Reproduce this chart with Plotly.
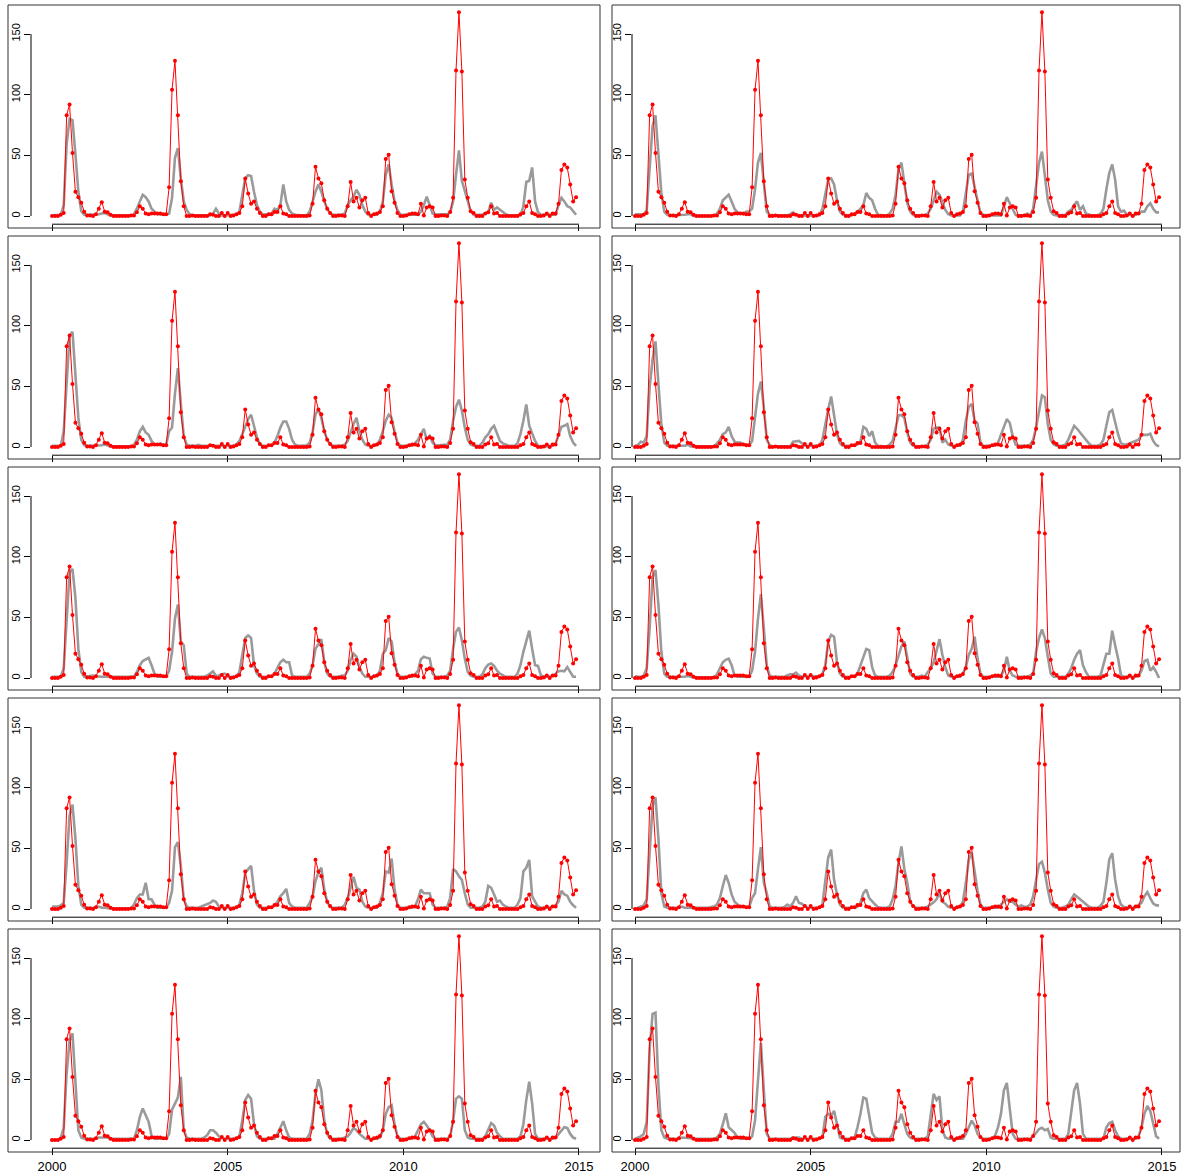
import plotly.graph_objects as go

# ---------------- data ----------------
months = [2000 + i / 12 for i in range(180)]

observed = [
    0, 0, 0, 1, 2.5, 83, 92, 52, 20, 15.5, 11, 3.6,
    0.5, 0.5, 0, 1.5, 6, 11.4, 3.6, 3, 1, 0, 0, 0,
    0, 0, 0, 0.5, 0.5, 3, 8, 6, 2, 1.5, 2, 2,
    2, 2, 1.5, 1.5, 23.6, 104, 128, 83, 28.6, 8, 0, 0,
    0.5, 0, 0, 0, 0, 0, 1.5, 1, 0, 0, 2.5, 0,
    2.5, 0, 0.5, 1.5, 2.5, 8, 31, 18.6, 10, 12, 6, 2.5,
    0, 0, 1.5, 1.5, 3.3, 3.3, 8, 2, 1.5, 0, 0, 0,
    0, 0, 0, 0, 0.5, 10, 40.5, 31, 27, 13, 6, 2.5,
    0, 0, 0.5, 0.5, 0, 8, 28, 12, 15, 7, 13, 15,
    2.5, 0, 1.5, 2, 3.3, 8, 47, 50.5, 20.5, 11, 2.5, 0,
    0, 0.5, 1.5, 2, 2, 1.5, 10, 0.5, 7, 8, 7, 0,
    0, 0.5, 0.5, 0, 3.3, 15, 120, 168, 119, 30, 15, 4,
    2.5, 0, 0, 0, 2, 3, 8, 2, 2.5, 0, 0, 0,
    0, 0, 0, 0, 1.5, 2.5, 8, 12, 2.5, 1.5, 0, 0,
    0.5, 2, 0, 2, 2, 10, 38, 42.5, 40, 26, 12, 15.5,
]

model_1 = [
    0.5, 0.5, 0.5, 1, 9, 59, 80, 79, 51, 20, 4, 1,
    1, 1, 1, 1.5, 1.5, 2, 2.5, 1.5, 0.5, 0.5, 0.5, 0.5,
    0.5, 0.5, 0.5, 0.5, 1.5, 6, 12, 17.5, 15.5, 12, 6, 4,
    1.5, 1.5, 1, 1, 2, 15, 48, 56, 31, 12, 5, 1.5,
    0.5, 0.5, 0.5, 0.5, 0.5, 0.5, 0.5, 2, 6, 2, 0.5, 0.5,
    1, 1, 1, 1, 3.6, 16, 31, 33.6, 33, 20, 9, 3.6,
    1.5, 1.5, 1, 2, 6, 5, 9, 26, 12, 5, 2, 1,
    0.5, 0.5, 0.5, 0.5, 3.6, 12, 20, 26, 20, 12, 6, 2,
    1, 1, 1, 1, 2, 9, 13, 16, 21.6, 17.5, 9, 3.6,
    1, 1, 1, 1, 3.6, 12, 34, 42.5, 26, 12, 5, 1,
    1, 1, 1, 1, 1, 1, 3.6, 9, 16, 9, 2, 1.5,
    1.5, 1.5, 1.5, 1.5, 3, 12, 34, 54, 29, 20, 12, 4,
    1, 1, 1, 1, 2, 3, 11, 5, 7, 5, 3, 1.5,
    0.5, 0.5, 0.5, 0.5, 0.5, 8, 28, 29, 40, 12, 3, 1,
    1, 1, 1, 1, 1, 9, 15, 12, 8, 7, 3.6, 1,
]

model_2 = [
    1.5, 1.5, 1.5, 1.5, 5, 44, 74, 83, 50, 19, 3.6, 1,
    0.5, 0.5, 0.5, 0.5, 0.5, 1, 1.5, 1.5, 0, 0, 0, 0,
    0, 0, 0, 0, 2, 6, 13, 15, 17.5, 12, 6, 3,
    2, 1.5, 3.6, 3.6, 6, 22, 44, 52, 27, 3.6, 1, 0.5,
    0.5, 0.5, 0.5, 0.5, 0.5, 1.5, 3, 1, 0.5, 0.5, 0.5, 0.5,
    0.5, 0.5, 0.5, 0.5, 6, 17.5, 30, 31, 26, 13, 3.6, 1,
    0.5, 0.5, 0.5, 2, 3.6, 6, 9, 19, 15, 13, 6, 1,
    0.5, 0.5, 0.5, 2, 6, 17.5, 38, 44, 27, 10.5, 3.6, 1,
    0.5, 0.5, 0.5, 0.5, 2, 6, 13, 20, 17.5, 10.5, 5, 1.5,
    0.5, 0.5, 0.5, 0.5, 3.6, 19, 34, 35, 24, 10.5, 2, 1,
    0.5, 0.5, 0.5, 0.5, 0.5, 0.5, 8, 15.5, 10.5, 5, 1, 0.5,
    0.5, 0.5, 2, 0.5, 6, 24, 44, 53, 33, 13, 3.6, 1,
    0.5, 0.5, 0.5, 1, 3.6, 5, 9, 12, 5, 8, 2, 1,
    0.5, 0.5, 0.5, 2, 6, 22, 35.5, 42.5, 30, 8, 3.6, 4.4,
    1, 1, 0.5, 1, 2, 3.6, 3.6, 8, 10.5, 6, 3, 3,
]

model_3 = [
    1, 1, 1, 1, 13, 58, 92, 95, 63, 24, 6, 1.5,
    1, 1, 1, 1, 1, 1.5, 2, 1, 0.5, 0.5, 0.5, 0.5,
    0.5, 0.5, 0.5, 0.5, 2, 6, 13, 16.6, 12, 10, 5, 2,
    1.7, 3, 1.7, 2, 13, 16, 44, 65, 35.5, 9, 2, 1,
    1, 1, 1.7, 1, 1, 1, 1, 1, 1, 1, 1, 1.5,
    1, 1, 1, 2, 5, 10.5, 17.5, 23, 26.6, 17.5, 8, 2,
    1, 1, 1, 1.7, 3.6, 9, 16, 21, 21, 15, 6, 2,
    1, 1, 1, 1.5, 3.6, 12, 27, 31, 24, 13, 6, 2,
    1, 1, 1, 1, 2, 5, 12, 19, 24, 13, 6, 2,
    1, 1, 1, 2, 6, 13, 21.6, 26.6, 24, 13, 3.6, 1,
    1, 1, 1, 1, 3, 6, 10.5, 15, 6, 9, 3.6, 1.5,
    1.5, 1.5, 1.5, 2, 6, 21.6, 33, 39, 30, 16, 6, 2,
    1, 1, 1, 3.6, 8, 10.5, 15, 17.5, 10.5, 5, 3, 1.7,
    1, 1, 1, 3, 10.5, 21.6, 35, 17.5, 11, 5, 1, 0.5,
    0.5, 0.5, 0.5, 1, 3, 10.5, 16.6, 17.5, 19, 9, 3.6, 1,
]

model_4 = [
    1, 1.7, 4.4, 3.6, 9, 49, 72, 87, 52, 19, 3.6, 1,
    1, 1, 1, 1, 1, 1, 2, 0.5, 0.5, 0.5, 0.5, 0.5,
    0.5, 0.5, 0.5, 0.5, 3, 6, 10.5, 12, 16.6, 9, 4.4, 3.6,
    3.6, 2, 2, 1.5, 5, 24, 44, 54, 33, 6, 1.5, 0.5,
    0.5, 0.5, 0.5, 0.5, 0.5, 0.5, 4.4, 5, 5, 3, 1, 1,
    1, 1, 1, 1, 6, 19, 31, 41.6, 26, 10.5, 3, 1,
    1, 1, 1, 1.7, 2, 4.4, 16.6, 15, 9, 13, 3.6, 1,
    0.5, 0.5, 0.5, 2, 5, 16, 26, 26.4, 24, 12, 3.6, 1,
    0.5, 0.5, 0.5, 0.5, 2, 6, 15, 16, 16, 3.6, 6, 2,
    1, 1, 1, 1, 6, 21.6, 33, 35.5, 21.6, 19.4, 3.6, 1,
    1, 1, 1, 1, 3.6, 10.5, 17.5, 23, 20, 9, 2, 1,
    1, 1, 1, 2, 6, 16, 30, 42.5, 41, 19, 6, 2,
    1, 1, 1, 2, 6, 12, 17.5, 15, 12, 9, 6, 3,
    1, 1, 1, 2, 6, 17.5, 28.6, 30.5, 20, 10.5, 3, 2,
    2, 3, 3.6, 4.4, 6, 10, 10, 10, 11, 5, 1.7, 0.5,
]

model_5 = [
    1, 1, 1, 1, 8, 49, 87, 90, 66, 24, 5, 1,
    1.5, 1.5, 2, 1.5, 1, 1, 1, 1, 1, 1, 1, 1,
    1, 1, 1, 1, 1, 5, 10.5, 14, 15.5, 16.6, 10.5, 3.6,
    1, 1, 1, 1, 6, 21.6, 49, 60.5, 30, 27, 3.6, 1,
    1, 1, 1, 1, 1, 2, 3.6, 5.5, 1.7, 2, 3, 3.6,
    1, 1, 1, 1, 5, 19, 33, 35, 33, 10.5, 3.6, 1,
    1, 1, 1, 1, 3.6, 9, 13, 15, 13, 13, 2, 1,
    1, 1, 1, 1, 3.6, 10.5, 24, 28.6, 32, 13, 3.6, 1,
    1, 1, 1, 2, 2, 6, 15, 20, 17.5, 9, 3.6, 1,
    1, 1, 1, 2, 6, 20, 23, 33, 30, 13, 3.6, 1,
    1, 1, 1, 1, 3, 6, 15.5, 17.5, 16.6, 16, 3.6, 1,
    1, 1, 1, 2, 6, 24, 38, 41.6, 31, 16, 5, 2,
    1, 1, 1, 3, 8, 11, 12, 10, 6, 3.6, 2, 1,
    1, 1, 1, 3.6, 10.5, 21.6, 31, 39, 24, 10.5, 10, 2,
    1, 1, 1, 1.5, 3.6, 5.5, 6, 5.5, 9, 5, 1, 1,
]

model_6 = [
    1.7, 1, 1, 2, 8, 41, 83, 89, 60.5, 21.6, 3.6, 1,
    1, 1, 1, 1, 1, 1, 1.7, 1, 0.5, 0.5, 0.5, 0.5,
    0.5, 0.5, 0.5, 0.5, 3, 8, 13, 15, 16, 10.5, 2, 1,
    1, 1, 1, 1, 6, 21.6, 49, 69, 41, 10.5, 2, 1,
    1, 1, 1, 1, 2, 3, 3, 4.4, 2, 1, 1.5, 1.5,
    1.5, 1.5, 1.5, 1.5, 3.6, 10.5, 30, 35.5, 34, 13, 3.6, 1,
    1, 1, 1, 1, 3.6, 10.5, 17.5, 24, 23, 9, 2, 1,
    1, 1, 1, 2, 5, 10.5, 17.5, 26, 30, 15, 3.6, 1,
    1, 1, 2, 1, 5, 8, 13, 23, 32, 19, 9, 2,
    1, 1, 1, 1, 3.6, 9, 19, 24, 34, 16, 3.6, 1,
    1, 1, 1, 1, 1, 2, 6, 17.5, 6, 2, 1, 1,
    1, 1, 1, 2, 3.6, 21.6, 33, 40, 33, 17.5, 3.6, 1,
    1, 1, 1, 1, 3.6, 8, 15, 20, 23, 10.5, 5, 1,
    1, 1, 1, 2, 10.5, 20, 20, 39, 27, 16, 2, 1,
    1, 1, 1, 1, 1.7, 6, 14, 15, 6, 9, 5, 0,
]

model_7 = [
    2, 2, 2, 3, 5, 38, 77, 86, 58, 19, 3.6, 1,
    1, 1, 1, 1, 2, 1, 1, 0.5, 0.5, 0.5, 0.5, 0.5,
    0.5, 0.5, 0.5, 0.5, 3.6, 9, 12, 12, 21.6, 8, 8, 3.6,
    1, 1, 1, 1, 5, 15, 51, 55, 35.5, 8, 2, 1,
    1, 1, 1, 2, 3, 3.6, 5, 7, 6, 2, 1, 1,
    1, 1, 1, 1, 3.6, 13, 30, 33, 35.5, 15, 3.6, 1,
    1, 1, 1, 1, 3, 6, 10.5, 13, 16.6, 5, 2, 1,
    1, 1, 1, 1, 5, 10.5, 23, 30, 34, 16, 6, 1.5,
    1, 1, 1, 1, 3.6, 9, 17.5, 26.6, 17.5, 16, 6, 2,
    1, 1, 1, 1, 5, 13, 31, 30, 41.6, 16, 3.6, 1,
    1, 1, 1, 1, 2, 8, 16, 13, 13, 13, 3.6, 1,
    1, 1, 1, 2, 9, 33, 31, 27, 24, 13, 3.6, 1,
    1, 1, 1, 2, 6, 19, 17.5, 12, 6, 7, 3.6, 2,
    1, 1, 1, 3.6, 9, 31, 34, 40.5, 10.5, 6, 2, 1,
    1, 1, 1, 2, 3, 6, 15, 12, 11, 6, 3, 1,
]

model_8 = [
    0, 1, 2, 3, 8, 49, 85, 92, 58, 13, 2, 1,
    1, 1, 1, 1, 2, 1, 1, 1, 1, 1, 1, 1,
    1, 1, 1.7, 2, 3.6, 9, 19, 28, 21.6, 12, 6, 3.6,
    1.7, 1.7, 1.7, 1.7, 9, 13, 33, 51, 21.6, 13, 2, 1,
    1, 1, 1, 1.7, 3.6, 2, 5, 10.5, 5, 4.4, 2, 1,
    1, 1, 1, 1, 3.6, 21.6, 42.5, 49, 24, 12, 3.6, 1,
    1, 1, 1, 1, 2, 5, 13, 16, 9, 6, 3.6, 1.7,
    1, 1, 1, 2, 8, 19, 38, 51.6, 33, 21.6, 6, 2,
    1, 1, 1, 1, 2, 3.6, 5.5, 8, 13, 6, 4.4, 1.7,
    1, 1, 1, 2, 6, 21.6, 40.5, 46.6, 30, 15, 3.6, 1,
    1, 1, 1, 1, 1, 3.6, 6, 8, 6, 6, 3.6, 2,
    3, 1.7, 2, 3.6, 10.5, 24, 37, 39, 30, 16, 5, 2,
    1, 1, 1, 2, 3.6, 8, 12, 10, 8, 6, 3.6, 2,
    1, 1, 1, 2.7, 6, 21.6, 41, 46, 24, 10.5, 3.6, 1.7,
    1, 1, 1, 1.7, 3, 5, 10.5, 14, 9, 4.4, 3, 3,
]

model_9 = [
    0, 0, 0, 2, 10, 55, 82, 88, 45, 8, 2, 1,
    1, 1, 1, 1, 2, 2, 2, 2, 1, 1, 1, 1,
    1, 1, 1, 1, 1, 8, 19, 26, 20, 15, 3.6, 1,
    1, 1, 1, 1, 5, 25, 30, 35, 52, 8, 2, 1,
    1, 1, 1, 1, 2, 4, 8, 8, 6, 3, 1.5, 1,
    1, 1, 1, 1, 3, 16, 33, 37, 34, 13, 3, 1,
    1, 1, 1, 1, 1, 5, 10.5, 15.5, 8, 2, 1, 1,
    1, 1, 1, 1, 5, 16, 38, 50, 41, 16, 5, 1,
    1, 1, 1, 1, 2, 3, 6, 10, 8, 5, 3, 1,
    1, 1, 1, 1, 2, 8, 21.6, 27, 28.6, 13, 3, 1,
    1, 1, 1, 1, 3, 8, 13, 15, 12, 8, 3, 1,
    1, 1, 1, 1, 3, 16, 34, 36, 34, 8, 2, 1,
    1, 1, 1, 1, 3, 9, 14, 12, 6, 3, 1, 1,
    1, 1, 1, 1, 3, 13, 33, 48, 30, 5, 1, 1,
    1, 1, 1, 1, 2, 5, 8, 10.5, 10, 5, 2, 1,
]

model_10 = [
    1, 2, 3, 5, 15, 75, 104, 105, 45, 8, 2, 1,
    1, 1, 1, 1, 2, 2, 2, 1.5, 1, 1, 1, 1,
    1, 1, 1, 1, 2, 5, 13, 22, 10.5, 8, 6, 2,
    1, 1, 1, 1, 3, 16, 49, 80, 41, 5, 1, 1,
    1, 1, 1, 1, 1, 1, 2, 2, 2, 1, 1, 1,
    1, 1, 1, 1, 2, 19, 21.6, 20, 24, 12, 2, 1,
    1, 1, 1, 2, 10.5, 21.6, 35, 34, 21.6, 6, 2, 1,
    1, 1, 1, 1, 5, 15, 15, 21.6, 13, 5, 2, 1,
    1, 1, 1, 1, 3, 20, 38, 33, 36, 8, 2, 1,
    1, 1, 1, 1, 1, 5, 10.5, 16, 12, 5, 2, 1,
    1, 1, 1, 3.6, 10.5, 21.6, 41, 47, 24, 5, 1, 1,
    1, 1, 1, 1, 3, 6, 9, 10, 8, 9, 2, 1,
    1, 1, 1, 1, 5, 21.6, 41, 47, 30, 5, 1, 1,
    1, 1, 1, 1, 1, 10.5, 14, 15, 8, 3, 1, 1,
    1, 1, 1, 1, 3, 10.5, 21.6, 28, 24, 13, 3, 1,
]

models = [model_1, model_2, model_3, model_4, model_5,
          model_6, model_7, model_8, model_9, model_10]

x_ticks = [2000, 2005, 2010, 2015]
x_tick_labels = ["2000", "2005", "2010", "2015"]
y_ticks = [0, 50, 100, 150]
y_tick_labels = ["0", "50", "100", "150"]

# ---------------- geometry (pixels) ----------------
W, H = 1184, 1176
ROW_STEP = 231
PX_PER_YEAR = 35.133
PX_PER_UNIT = 1.2133
COL_X2000 = [52, 635]          # pixel of year 2000 in each column
COL_PLOT_LEFT = [31, 632]      # left edge of plot area (y axis position)
PLOT_RIGHT_OFF = 545           # plot-area right edge relative to 2000 tick
ZERO_Y0 = 216                  # pixel of value 0 in first row
PLOT_TOP0 = 4.0
PLOT_BOT0 = 224.2
BOX_X = [(8, 600), (612, 1180)]
BOX_Y0 = (5, 228)

fig = go.Figure()
layout_axes = {}
shapes = []

for k in range(10):
    r, c = divmod(k, 2)
    n = k + 1
    xa = "x" if n == 1 else f"x{n}"
    ya = "y" if n == 1 else f"y{n}"
    xkey = "xaxis" if n == 1 else f"xaxis{n}"
    ykey = "yaxis" if n == 1 else f"yaxis{n}"

    x0 = COL_X2000[c]
    pl = COL_PLOT_LEFT[c]
    pr = x0 + PLOT_RIGHT_OFF
    zero = ZERO_Y0 + ROW_STEP * r
    pt = PLOT_TOP0 + ROW_STEP * r
    pb = PLOT_BOT0 + ROW_STEP * r

    xr = [2000 + (pl - x0) / PX_PER_YEAR, 2000 + (pr - x0) / PX_PER_YEAR]
    yr = [(zero - pb) / PX_PER_UNIT, (zero - pt) / PX_PER_UNIT]

    fig.add_trace(go.Scatter(
        x=months, y=models[k], mode="lines",
        line=dict(color="#9a9a9a", width=2.6),
        xaxis=xa, yaxis=ya, hoverinfo="skip", showlegend=False, cliponaxis=False))
    fig.add_trace(go.Scatter(
        x=months, y=observed, mode="lines+markers",
        line=dict(color="#ff0000", width=1),
        marker=dict(color="#ff0000", size=4),
        xaxis=xa, yaxis=ya, hoverinfo="skip", showlegend=False, cliponaxis=False))

    bottom_row = (r == 4)
    layout_axes[xkey] = dict(
        domain=[pl / W, pr / W], range=xr, anchor=ya, automargin=False,
        tickmode="array", tickvals=x_ticks,
        ticktext=x_tick_labels if bottom_row else ["", "", "", ""],
        ticks="outside", ticklen=6, tickwidth=1, tickcolor="#000000",
        showgrid=False, zeroline=False, showline=False,
        tickfont=dict(family="Liberation Sans, Arial, sans-serif", size=13, color="#000000"),
    )
    layout_axes[ykey] = dict(
        domain=[1 - pb / H, 1 - pt / H], range=yr, anchor=xa, automargin=False,
        tickmode="array", tickvals=y_ticks, ticktext=y_tick_labels,
        ticks="outside", ticklen=6, tickwidth=1, tickcolor="#000000",
        tickangle=-90,
        showgrid=False, zeroline=False, showline=False,
        tickfont=dict(family="Liberation Sans, Arial, sans-serif", size=11, color="#000000"),
    )
    # axis lines spanning the tick range (R style)
    shapes.append(dict(type="line", xref=f"{xa} domain", yref=ya,
                       x0=0, x1=0, y0=0, y1=150,
                       line=dict(color="#000000", width=1)))
    shapes.append(dict(type="line", xref=xa, yref=f"{ya} domain",
                       x0=2000, x1=2015, y0=0, y1=0,
                       line=dict(color="#000000", width=1)))
    # panel frame
    bx0, bx1 = BOX_X[c]
    by0 = BOX_Y0[0] + ROW_STEP * r
    by1 = BOX_Y0[1] + ROW_STEP * r
    shapes.append(dict(type="rect", xref="paper", yref="paper",
                       x0=bx0 / W, x1=bx1 / W, y0=1 - by1 / H, y1=1 - by0 / H,
                       line=dict(color="#333333", width=1), fillcolor="rgba(0,0,0,0)"))

fig.update_layout(
    width=W, height=H,
    margin=dict(l=0, r=0, t=0, b=0, autoexpand=False),
    paper_bgcolor="white", plot_bgcolor="white",
    showlegend=False, shapes=shapes,
    **layout_axes,
)

fig.write_html("out.html")
